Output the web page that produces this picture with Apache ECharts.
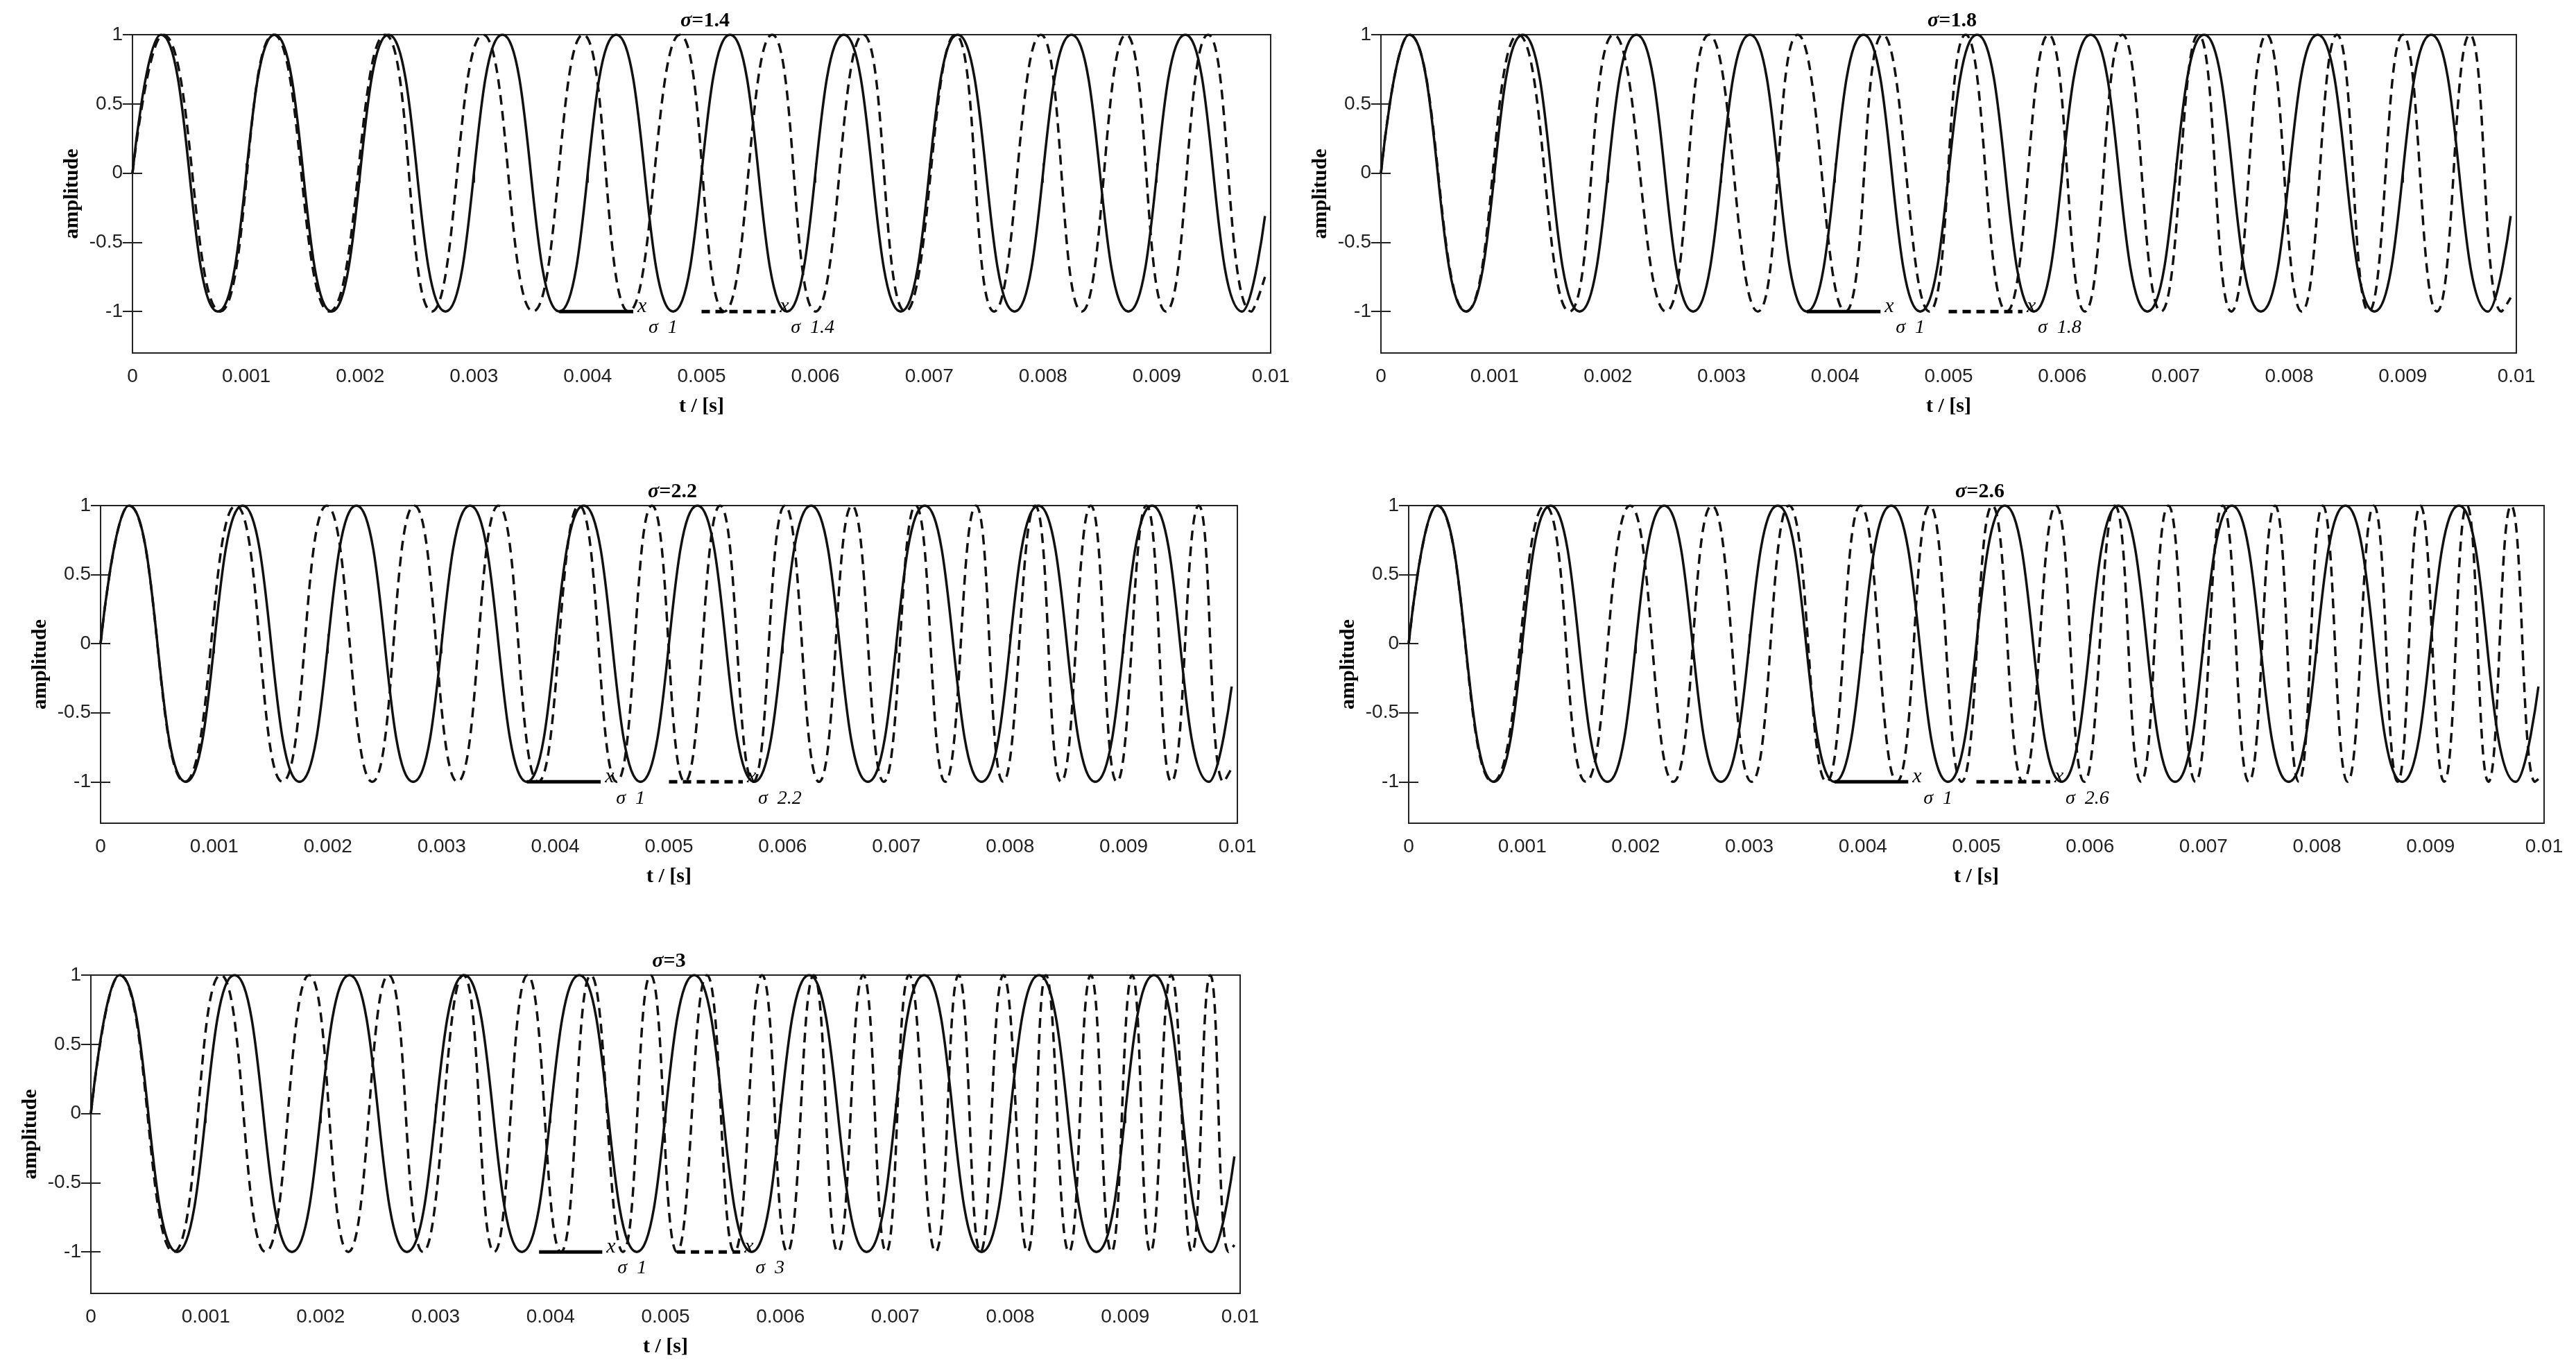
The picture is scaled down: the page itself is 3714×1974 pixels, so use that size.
<!DOCTYPE html>
<html>
<head>
<meta charset="utf-8">
<script src="https://cdn.jsdelivr.net/npm/echarts@6/dist/echarts.min.js"></script>
<style>
html,body{margin:0;padding:0;background:#fff;}
#main{width:3714px;height:1974px;}
</style>
</head>
<body>
<div id="main"></div>
<script>
// sigma values of each panel
var sigmas = ['1.4', '1.8', '2.2', '2.6', '3'];

// reference signal x_sigma=1 (times in ms)
var refPeaks = [0.25, 1.25, 2.25, 3.25, 4.25, 5.25, 6.25, 7.25, 8.25, 9.25];
var refTroughs = [0.75, 1.75, 2.75, 3.75, 4.75, 5.75, 6.75, 7.75, 8.75, 9.75];
var refEnd = -0.31;

// dashed signals, extrema times (ms)
var peaks14 = [0.27, 1.24, 2.22, 3.08, 3.96, 4.81, 5.62, 6.42, 7.23, 7.98, 8.73, 9.45];
var troughs14 = [0.77, 1.73, 2.63, 3.52, 4.36, 5.20, 6.00, 6.79, 7.57, 8.34, 9.08, 9.83];
var peaks18 = [0.25, 1.21, 2.05, 2.89, 3.67, 4.42, 5.15, 5.88, 6.53, 7.20, 7.80, 8.42, 9.00, 9.59];
var troughs18 = [0.75, 1.66, 2.51, 3.32, 4.09, 4.83, 5.51, 6.20, 6.87, 7.49, 8.11, 8.70, 9.30, 9.87];
var peaks22 = [0.25, 1.19, 1.99, 2.76, 3.50, 4.21, 4.85, 5.45, 6.02, 6.61, 7.17, 7.70, 8.22, 8.71, 9.20, 9.66];
var troughs22 = [0.74, 1.60, 2.39, 3.14, 3.85, 4.54, 5.14, 5.74, 6.32, 6.89, 7.43, 7.94, 8.45, 8.94, 9.42, 9.88];
var peaks26 = [0.25, 1.20, 1.95, 2.67, 3.35, 3.98, 4.59, 5.14, 5.70, 6.22, 6.69, 7.17, 7.63, 8.05, 8.50, 8.91, 9.32, 9.71];
var troughs26 = [0.74, 1.56, 2.33, 3.02, 3.68, 4.30, 4.87, 5.41, 5.95, 6.45, 6.93, 7.40, 7.84, 8.27, 8.71, 9.12, 9.51, 9.92];
var peaks30 = [0.25, 1.13, 1.90, 2.59, 3.24, 3.80, 4.35, 4.87, 5.36, 5.84, 6.29, 6.72, 7.12, 7.55, 7.94, 8.31, 8.70, 9.06, 9.40, 9.74];
var troughs30 = [0.72, 1.52, 2.24, 2.89, 3.51, 4.09, 4.63, 5.10, 5.60, 6.06, 6.50, 6.92, 7.35, 7.74, 8.15, 8.51, 8.88, 9.22, 9.58, 9.90];
var dashedEnds = [-0.75, -0.9, -0.9, -0.98, -0.95];

var dashedPeaks = [peaks14, peaks18, peaks22, peaks26, peaks30];
var dashedTroughs = [troughs14, troughs18, troughs22, troughs26, troughs30];

var xTicks = [0, 0.001, 0.002, 0.003, 0.004, 0.005, 0.006, 0.007, 0.008, 0.009, 0.01];
var yTicks = [-1, -0.5, 0, 0.5, 1];

// legend segment positions (ms) per panel
var legSolid = [[3.75, 4.4], [3.75, 4.4], [3.75, 4.4], [3.75, 4.4], [3.9, 4.45]];
var legDash = [[5.0, 5.65], [5.0, 5.65], [5.0, 5.65], [5.0, 5.65], [5.1, 5.65]];

var grids = [
	{left: 191, top: 50, width: 1641, height: 459},
	{left: 1991, top: 50, width: 1637, height: 459},
	{left: 145, top: 729, width: 1639, height: 458},
	{left: 2031, top: 729, width: 1637, height: 458},
	{left: 131, top: 1406, width: 1657, height: 459}
];

function buildLine(pk, tr, endVal){
	var pts = [[0, 0]];
	for(var i=0;i<pk.length;i++){ pts.push([pk[i]/1000, 1]); }
	for(var j=0;j<tr.length;j++){ pts.push([tr[j]/1000, -1]); }
	pts.push([0.00995, endVal]);
	pts.sort(function(a,b){ return a[0]-b[0]; });
	return pts;
}

var tickFont = {fontFamily: 'Liberation Sans Narrow, Liberation Sans, sans-serif', fontSize: 28, color: '#222'};
var serifBold = 'Liberation Serif, DejaVu Serif, serif';

var option = {backgroundColor: '#fff', animation: false, grid: [], xAxis: [], yAxis: [], series: [], title: []};

for(var k=0;k<5;k++){
	var g = grids[k];
	option.grid.push({left: g.left, top: g.top, width: g.width, height: g.height, show: true,
		borderColor: '#222', borderWidth: 2, backgroundColor: '#fff'});
	option.title.push({
		text: '{s|σ}{n|=' + sigmas[k] + '}',
		left: g.left + g.width/2, top: g.top - 40, textAlign: 'center',
		textStyle: {rich: {
			s: {fontFamily: serifBold, fontSize: 30, fontWeight: 'bold', fontStyle: 'italic', color: '#000'},
			n: {fontFamily: serifBold, fontSize: 30, fontWeight: 'bold', color: '#000'}
		}}
	});
	// bottom axis
	option.xAxis.push({
		type: 'value', gridIndex: k, min: 0, max: 0.01, position: 'bottom',
		name: 't / [s]', nameLocation: 'middle', nameGap: 62,
		nameTextStyle: {fontFamily: serifBold, fontWeight: 'bold', fontSize: 30, color: '#000'},
		axisLine: {show: false}, splitLine: {show: false},
		axisTick: {inside: true, length: 14, lineStyle: {color: '#222', width: 2}, customValues: xTicks},
		axisLabel: Object.assign({margin: 20, customValues: xTicks, formatter: function(v){ return String(+v.toFixed(3)); }}, tickFont)
	});
	// top axis (mirrored ticks)
	option.xAxis.push({
		type: 'value', gridIndex: k, min: 0, max: 0.01, position: 'top',
		axisLine: {show: false}, splitLine: {show: false}, axisLabel: {show: false},
		axisTick: {inside: true, length: 14, lineStyle: {color: '#222', width: 2}, customValues: xTicks}
	});
	option.yAxis.push({
		type: 'value', gridIndex: k, min: -1.3, max: 1, position: 'left',
		name: 'amplitude', nameLocation: 'middle', nameGap: 72, nameRotate: 90,
		nameTextStyle: {fontFamily: serifBold, fontWeight: 'bold', fontSize: 30, color: '#000'},
		axisLine: {show: false}, splitLine: {show: false},
		axisTick: {inside: true, length: 14, lineStyle: {color: '#222', width: 2}, customValues: yTicks},
		axisLabel: Object.assign({margin: 14, customValues: yTicks}, tickFont)
	});
	option.yAxis.push({
		type: 'value', gridIndex: k, min: -1.3, max: 1, position: 'right',
		axisLine: {show: false}, splitLine: {show: false}, axisLabel: {show: false},
		axisTick: {inside: true, length: 14, lineStyle: {color: '#222', width: 2}, customValues: yTicks}
	});
	option.series.push({
		type: 'line', xAxisIndex: 2*k, yAxisIndex: 2*k, showSymbol: false, smooth: 0.5, z: 3,
		lineStyle: {color: '#111', width: 3.5, type: [14, 9]},
		data: buildLine(dashedPeaks[k], dashedTroughs[k], dashedEnds[k])
	});
	option.series.push({
		type: 'line', xAxisIndex: 2*k, yAxisIndex: 2*k, showSymbol: false, smooth: 0.5, z: 4,
		lineStyle: {color: '#111', width: 3.5},
		data: buildLine(refPeaks, refTroughs, refEnd)
	});
}

var chart = echarts.init(document.getElementById('main'));
chart.setOption(option);

// legend-like labels drawn inside each plot
var gr = [];
function px(k, t, y){ return chart.convertToPixel({xAxisIndex: 2*k, yAxisIndex: 2*k}, [t/1000, y]); }
function addKey(k, seg, dashed, sub){
	var a = px(k, seg[0], -1), b = px(k, seg[1], -1);
	gr.push({type: 'line', shape: {x1: a[0], y1: a[1], x2: b[0], y2: b[1]}, z: 10,
		style: {stroke: '#000', lineWidth: 5, lineDash: dashed ? [12, 8] : null}});
	gr.push({type: 'text', x: b[0] + 6, y: b[1] - 22, z: 10,
		style: {text: 'x', font: 'italic 30px ' + serifBold, fill: '#000'}});
	gr.push({type: 'text', x: b[0] + 22, y: b[1] + 10, z: 10,
		style: {text: 'σ  ' + sub, font: 'italic 28px ' + serifBold, fill: '#000'}});
}
for(var m=0;m<5;m++){
	addKey(m, legSolid[m], false, '1');
	addKey(m, legDash[m], true, sigmas[m]);
}
chart.setOption({graphic: gr});
</script>
</body>
</html>
